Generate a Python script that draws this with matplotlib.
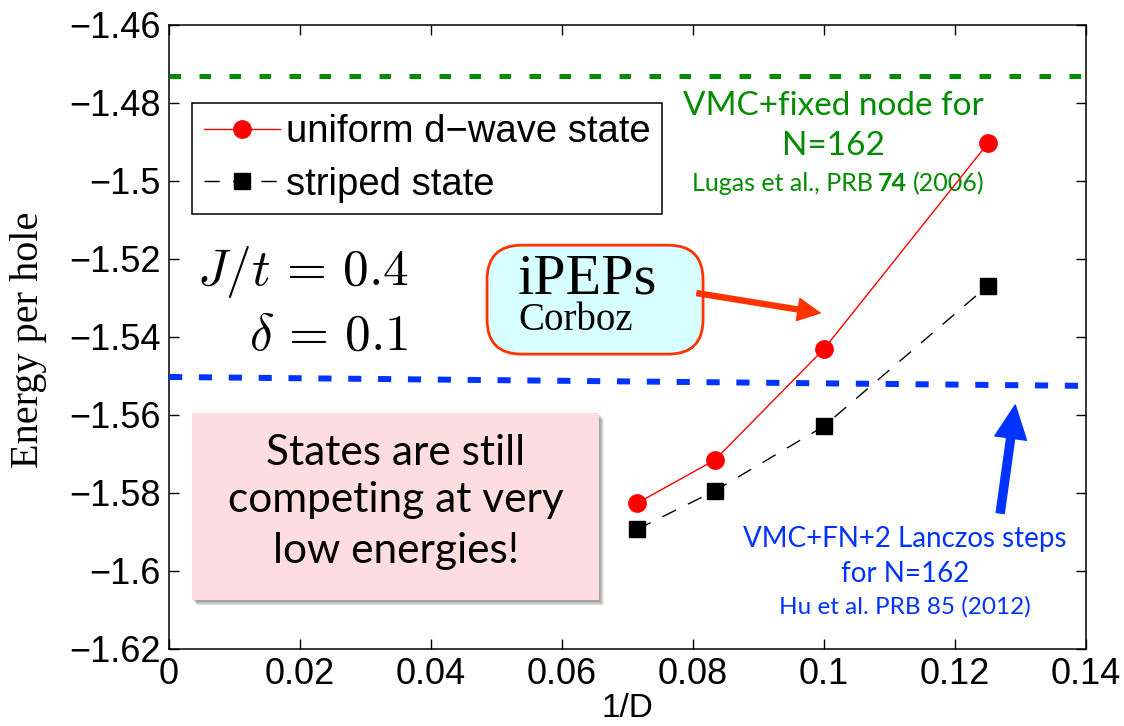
import matplotlib
matplotlib.use('Agg')
import matplotlib.pyplot as plt
from matplotlib.patches import FancyBboxPatch, FancyArrowPatch, Rectangle

# data
inv_D = [1 / 14, 1 / 12, 1 / 10, 1 / 8]
e_uniform = [-1.5827, -1.5716, -1.5431, -1.4904]
e_striped = [-1.5894, -1.5795, -1.5629, -1.5269]

# reference energies (horizontal guide lines)
vmc_fn_x = [0.0, 0.1403]
vmc_fn_e = [-1.4732, -1.4732]
vmc_lanczos_x = [0.0, 0.1411]
vmc_lanczos_e = [-1.5503, -1.5526]

x_ticks = [0, 0.02, 0.04, 0.06, 0.08, 0.1, 0.12, 0.14]
x_tick_labels = ['0', '0.02', '0.04', '0.06', '0.08', '0.1', '0.12', '0.14']
y_ticks = [-1.46, -1.48, -1.50, -1.52, -1.54, -1.56, -1.58, -1.60, -1.62]
y_tick_labels = ['\u22121.46', '\u22121.48', '\u22121.5', '\u22121.52', '\u22121.54',
                 '\u22121.56', '\u22121.58', '\u22121.6', '\u22121.62']

GREEN = '#008c00'
BLUE = '#0033ff'
ORANGE = '#ff3300'
SANS2 = 'Lato'

plt.rcParams['font.family'] = 'Liberation Sans'
plt.rcParams['mathtext.fontset'] = 'cm'

fig = plt.figure(figsize=(11.24, 7.26), dpi=100)
ax = fig.add_axes([0.1504, 0.1065, 0.8158, 0.8591])

ax.plot(inv_D, e_uniform, '-o', color='red', lw=1, ms=12.5,
        label='uniform d\u2212wave state', zorder=4)
ax.plot(inv_D, e_striped, color='black', lw=1, ls=(0, (11, 9.5)), marker='s',
        ms=11, label='striped state', zorder=4)

ax.plot(vmc_fn_x, vmc_fn_e, color=GREEN, lw=3.6, dashes=(2.3, 3.7),
        clip_on=False, zorder=5)
ax.plot(vmc_lanczos_x, vmc_lanczos_e, color=BLUE, lw=4.3, dashes=(2.2, 2.8),
        clip_on=False, zorder=5)

ax.set_xlim(0, 0.14)
ax.set_ylim(-1.62, -1.46)
ax.set_xticks(x_ticks)
ax.set_xticklabels(x_tick_labels)
ax.set_yticks(y_ticks)
ax.set_yticklabels(y_tick_labels)
ax.tick_params(direction='in', length=7, width=1, top=True, right=True,
               labelsize=26, pad=6)
for s in ax.spines.values():
    s.set_linewidth(1.1)
ax.set_xlabel('1/D', fontsize=24, labelpad=1)
fig.text(29 / 1124, 1 - 340 / 726, 'Energy per hole', rotation=90,
         family='Liberation Serif', size=29, ha='center', va='center')

leg = ax.legend(loc='upper left', bbox_to_anchor=(0.0251, 0.8749),
                borderaxespad=0, fontsize=27.5, fancybox=False,
                edgecolor='black', framealpha=1, handlelength=2.0,
                handletextpad=0.15, borderpad=0.3, labelspacing=0.42)
leg.get_frame().set_linewidth(1.1)

# green annotation
ax.text(0.1015, -1.4830, 'VMC+fixed node for', color=GREEN, family=SANS2,
        size=24, ha='center', va='baseline')
ax.text(0.1015, -1.4934, 'N=162', color=GREEN, family=SANS2, size=24,
        ha='center', va='baseline')
t74 = ax.text(0.1105, -1.5026, '74', color=GREEN, family=SANS2, size=18,
              weight='bold', ha='center', va='baseline')
ax.annotate('Lugas et al., PRB', xy=(0, 0), xycoords=t74, xytext=(-4, 0),
            textcoords='offset points', color=GREEN, family=SANS2, size=18,
            ha='right', va='bottom')
ax.annotate('(2006)', xy=(1, 0), xycoords=t74, xytext=(4, 0),
            textcoords='offset points', color=GREEN, family=SANS2, size=18,
            ha='left', va='bottom')

# blue annotation
ax.text(0.1124, -1.5938, 'VMC+FN+2 Lanczos steps', color=BLUE, family=SANS2,
        size=20, ha='center', va='baseline')
ax.text(0.1124, -1.6028, 'for N=162', color=BLUE, family=SANS2, size=20,
        ha='center', va='baseline')
ax.text(0.1124, -1.6109, 'Hu et al. PRB 85 (2012)', color=BLUE, family=SANS2,
        size=17.5, ha='center', va='baseline')
ax.add_patch(FancyArrowPatch((0.1269, -1.5852), (0.1292, -1.5575),
                             arrowstyle='simple,head_length=24,head_width=23,tail_width=5.8',
                             color=BLUE, shrinkA=0, shrinkB=0, mutation_scale=1,
                             zorder=6))

# J/t and doping
ax.text(0.0366, -1.5267, r'$J/t \,=\, 0.4$', size=37, ha='right', va='baseline')
ax.text(0.0366, -1.5434, r'$\delta \,=\, 0.1$', size=37, ha='right', va='baseline')

# iPEPs box
ax.add_patch(FancyBboxPatch((0.04855, -1.54444), 0.08153 - 0.04855, 0.02795,
                            boxstyle='round,pad=0,rounding_size=0.0053',
                            mutation_aspect=1.679, fc='#d8ffff', ec=ORANGE,
                            lw=2, zorder=6))
ax.text(0.05328, -1.5288, 'iPEPs', family='Liberation Serif', size=42,
        ha='left', va='baseline', zorder=7)
ax.text(0.05328, -1.5383, 'Corboz', family='Liberation Serif', size=28,
        ha='left', va='baseline', zorder=7)
ax.add_patch(FancyArrowPatch((0.0806, -1.5288), (0.0994, -1.5339),
                             arrowstyle='simple,head_length=16,head_width=16,tail_width=3.6',
                             color=ORANGE, shrinkA=0, shrinkB=0, mutation_scale=1,
                             zorder=6))

# pink box with soft shadow
bx0, bx1, by0, by1 = 0.00351, 0.06565, -1.60751, -1.55956
for k in range(6):
    ax.add_patch(Rectangle((bx0 + 0.0002 + 0.0001 * k, by0 - 0.0004 - 0.0002 * k),
                           bx1 - bx0, by1 - by0, fc='black', ec='none',
                           alpha=0.07, zorder=5))
ax.add_patch(Rectangle((bx0, by0), bx1 - bx0, by1 - by0, fc='#fddde0',
                       ec='none', zorder=6))
for txt, yb in [('States are still', -1.5729), ('competing at very', -1.5850),
                ('low energies!', -1.5981)]:
    ax.text(0.0346, yb, txt, family=SANS2, size=30.5, ha='center',
            va='baseline', zorder=7)

fig.savefig('out.png', dpi=100)
